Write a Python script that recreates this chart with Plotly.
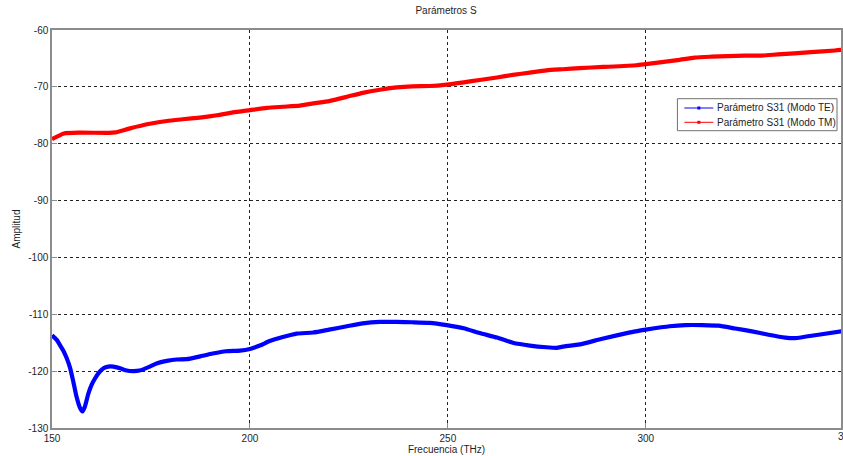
import plotly.graph_objects as go

# Frequency samples (THz) and S31 amplitude for each mode
freq_te = [150, 151.2, 152.0, 152.9, 153.7, 154.6, 155.4, 156.2, 157.1, 157.7, 158.3,
           159.2, 160.0, 160.9, 161.7, 163.0, 164.2, 165.5, 167.2, 168.9, 170.6, 172.1,
           174.7, 176.4, 179, 181.5, 184, 187.4, 190.6, 194, 197.5, 200, 202.5, 205,
           208.3, 211.8, 216, 220, 224.5, 228.5, 232.8, 237, 241, 245.4, 249.7, 254,
           258, 262.4, 266.4, 270.7, 274.9, 277.5, 279, 283.3, 289, 297.4, 300, 306,
           310, 314.2, 318.4, 322.6, 326.8, 331, 335.2, 337.7, 343.6, 349.4]
s31_te = [-113.7, -114.5, -115.4, -116.45, -117.7, -119.5, -121.9, -124.5, -126.5, -127.1, -126.25,
          -123.9, -122.4, -121.25, -120.4, -119.5, -119.2, -119.2, -119.5, -119.9, -120.0, -119.9,
          -119.2, -118.65, -118.2, -117.95, -117.9, -117.4, -116.9, -116.5, -116.4, -116.1, -115.5, -114.7,
          -114.0, -113.4, -113.2, -112.7, -112.1, -111.6, -111.35, -111.35, -111.4, -111.5, -111.9, -112.45,
          -113.3, -114.1, -115.0, -115.5, -115.8, -115.9, -115.7, -115.3, -114.3, -113.0, -112.7, -112.1,
          -111.9, -111.9, -112.0, -112.5, -113.0, -113.6, -114.1, -114.2, -113.6, -113.0]

freq_tm = [150, 153, 157, 164.4, 166, 169.7, 174.7, 179, 183, 187.4, 191.7, 195.7,
           200, 204.3, 208.3, 212.6, 216, 220, 224.5, 228.5, 232.8, 237, 241,
           245.4, 249.7, 254, 258, 262.4, 266.4, 270.7, 274.9, 279, 283.3, 289.2,
           297.6, 300, 308, 312.3, 316.5, 324.9, 329.1, 333.3, 341.7, 347.8, 349.4]
s31_tm = [-79.2, -78.2, -78.05, -78.1, -78.0, -77.3, -76.5, -76.0, -75.7, -75.4, -75.0, -74.5,
          -74.1, -73.7, -73.5, -73.3, -72.9, -72.5, -71.75, -71.05, -70.5, -70.1, -69.9,
          -69.85, -69.6, -69.2, -68.8, -68.35, -67.9, -67.5, -67.1, -66.9, -66.7, -66.5,
          -66.2, -66.0, -65.3, -64.85, -64.7, -64.5, -64.5, -64.3, -63.9, -63.6, -63.5]

x_ticks = [150, 200, 250, 300]
y_ticks = [-60, -70, -80, -90, -100, -110, -120, -130]

series_names = ["Parámetro S31 (Modo TE)", "Parámetro S31 (Modo TM)"]
series_x = [freq_te, freq_tm]
series_y = [s31_te, s31_tm]
series_colors = ["#0000ff", "#ff0000"]

FONT = "Liberation Sans, Arial, Helvetica, sans-serif"
FS = 10
TXT = "#1e1e28"
AXC = "#8c8c8c"

W, H = 843, 456
ML, MR, MT, MB = 52, 0, 30, 28
PW, PH = W - ML - MR, H - MT - MB


def px_x(px):
    return (px - ML) / PW


def px_y(py):
    return 1 - (py - MT) / PH


fig = go.Figure()
for name, fx, fy, col in zip(series_names, series_x, series_y, series_colors):
    fig.add_trace(go.Scatter(
        x=fx, y=fy, mode="lines", name=name, showlegend=False,
        line=dict(color=col, width=4.2, shape="spline", smoothing=0.5),
        hoverinfo="x+y",
    ))

xmax = 349.3
fig.update_xaxes(
    range=[150, xmax], tickvals=x_ticks, ticktext=[str(v) for v in x_ticks],
    showgrid=True, gridcolor="#222222", griddash="dot", gridwidth=1,
    showline=True, linecolor=AXC, linewidth=1.5, mirror=True,
    ticks="inside", ticklen=5, tickcolor=AXC, tickwidth=1,
    tickfont=dict(family=FONT, size=FS, color=TXT),
    title=dict(text="Frecuencia (THz)", font=dict(family=FONT, size=FS, color=TXT), standoff=0),
    zeroline=False,
)
fig.update_yaxes(
    range=[-130, -60], tickvals=y_ticks, ticktext=[str(v) for v in y_ticks],
    showgrid=True, gridcolor="#222222", griddash="dot", gridwidth=1,
    showline=True, linecolor=AXC, linewidth=1.5, mirror=True,
    ticks="inside", ticklen=5, tickcolor=AXC, tickwidth=1,
    tickfont=dict(family=FONT, size=FS, color=TXT),
    title=dict(text="Amplitud", font=dict(family=FONT, size=FS, color=TXT), standoff=6),
    zeroline=False,
)

# the 350 tick label sits just past the right edge of the page
fig.add_annotation(
    x=(350 - 150) / (xmax - 150), y=0, xref="paper", yref="paper",
    xanchor="center", yanchor="top", yshift=-1, xshift=3, showarrow=False,
    text="350", font=dict(family=FONT, size=FS, color=TXT),
)

# boxed legend: short line with a dot marker, then the series name
box_l, box_r, box_t, box_b = 679, 839, 98.7, 130.7
fig.add_shape(type="rect", xref="paper", yref="paper",
              x0=px_x(box_l), x1=px_x(box_r), y0=px_y(box_b), y1=px_y(box_t),
              line=dict(color="#707070", width=1), fillcolor="white", layer="above")
row_y = [108, 122.3]
for name, col, ry in zip(series_names, series_colors, row_y):
    fig.add_shape(type="line", xref="paper", yref="paper",
                  x0=px_x(686), x1=px_x(715), y0=px_y(ry), y1=px_y(ry),
                  line=dict(color=col, width=1), layer="above")
    fig.add_shape(type="rect", xref="paper", yref="paper",
                  x0=px_x(699), x1=px_x(702), y0=px_y(ry + 1.5), y1=px_y(ry - 1.5),
                  line=dict(width=0), fillcolor=col, layer="above")
    fig.add_annotation(x=px_x(717), y=px_y(ry), xref="paper", yref="paper",
                       xanchor="left", yanchor="middle", showarrow=False,
                       text=name, font=dict(family=FONT, size=FS, color=TXT))

fig.update_layout(
    width=W, height=H,
    margin=dict(l=ML, r=MR, t=MT, b=MB),
    paper_bgcolor="white", plot_bgcolor="white",
    title=dict(text="Parámetros S", x=px_x(447), xref="paper",
               xanchor="center", y=1 - 10 / H, yanchor="middle",
               font=dict(family=FONT, size=FS, color=TXT)),
    showlegend=False,
)

fig.write_html("out.html")
